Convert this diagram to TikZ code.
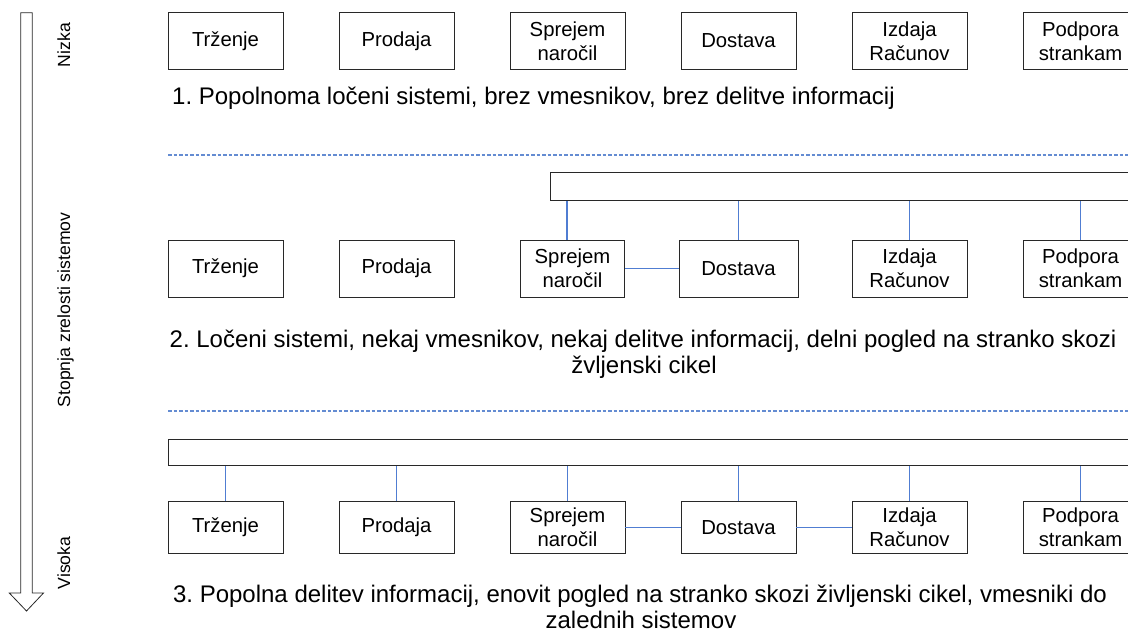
\documentclass[tikz,border=0pt]{standalone}
\usepackage{fontspec}
\setmainfont{Liberation Sans}
\frenchspacing
\definecolor{edge}{RGB}{40,40,40}
\definecolor{conn}{RGB}{80,125,210}
\definecolor{dash}{RGB}{100,140,210}
\tikzset{
  sysbox/.style={draw=edge, line width=0.9pt, fill=white, inner sep=0pt, align=center,
    font=\fontsize{20.3}{24}\selectfont},
  busbar/.style={draw=edge, line width=0.9pt, fill=white, inner sep=0pt},
  link/.style={draw=conn, line width=1.1pt},
  sep/.style={draw=dash, line width=1.2pt, dash pattern=on 3.5pt off 2pt},
  capt/.style={inner sep=0pt, font=\fontsize{24}{26}\selectfont},
  side/.style={inner sep=0pt, rotate=90, font=\fontsize{17.6}{20}\selectfont},
}
\begin{document}
\begin{tikzpicture}[x=1pt,y=-1pt]
\useasboundingbox (0,0) rectangle (1128,634);
\clip (0,0) rectangle (1128,634);
% big arrow
\draw[draw=edge, line width=0.8pt, fill=white] (20.7,12.7) -- (32.3,12.7) -- (32.3,593) -- (43.5,593) -- (26.5,611) -- (9.3,593) -- (20.7,593) -- cycle;
\node[side, anchor=base] (nizka) at (70,45) {Nizka};
\node[side, anchor=base] (stopnja) at (70,310) {Stopnja zrelosti sistemov};
\node[side, anchor=base] (visoka) at (70,563) {Visoka};
% row 1
\node[sysbox, minimum width=115, minimum height=56.5] (t1) at (225.5,40.8) {Trženje};
\node[sysbox, minimum width=115, minimum height=56.5] (p1) at (396.5,40.8) {Prodaja};
\node[sysbox, minimum width=115, minimum height=56.5] (s1) at (567.5,40.8) {Sprejem\\naročil};
\node[sysbox, minimum width=115, minimum height=56.5] (d1) at (738.5,40.8) {Dostava};
\node[sysbox, minimum width=115, minimum height=56.5] (i1) at (909.5,40.8) {Izdaja\\Računov};
\node[sysbox, minimum width=115, minimum height=56.5] (r1) at (1080.5,40.8) {Podpora\\strankam};
\node[capt, anchor=base west] (cap1) at (172,104) {1. Popolnoma ločeni sistemi, brez vmesnikov, brez delitve informacij};
\coordinate (l1a) at (168,155);
\coordinate (l1b) at (1128,155);
\draw[sep] (l1a) -- (l1b);
% row 2
\node[busbar, anchor=north west, minimum width=600, minimum height=28] (bar2) at (550,172) {};
\node[sysbox, minimum width=115, minimum height=57] (t2) at (225.5,268.5) {Trženje};
\node[sysbox, minimum width=115, minimum height=57] (p2) at (396.5,268.5) {Prodaja};
\node[sysbox, minimum width=104, minimum height=57] (s2) at (572.5,268.5) {Sprejem\\naročil};
\node[sysbox, minimum width=119, minimum height=57] (d2) at (738.5,268.5) {Dostava};
\node[sysbox, minimum width=115, minimum height=57] (i2) at (909.5,268.5) {Izdaja\\Računov};
\node[sysbox, minimum width=115, minimum height=57] (r2) at (1080.5,268.5) {Podpora\\strankam};
\draw[link] ([xshift=-5.5]s2.north) -- ([xshift=-5.5]s2.north |- bar2.south);
\draw[link] (d2.north) -- (d2.north |- bar2.south);
\draw[link] (i2.north) -- (i2.north |- bar2.south);
\draw[link] (r2.north) -- (r2.north |- bar2.south);
\draw[link] (s2.east) -- (d2.west);
\node[capt, anchor=base] (cap2a) at (643,347) {2. Ločeni sistemi, nekaj vmesnikov, nekaj delitve informacij, delni pogled na stranko skozi};
\node[capt, anchor=base] (cap2b) at (644,373) {žvljenski cikel};
\coordinate (l2a) at (168,411);
\coordinate (l2b) at (1128,411);
\draw[sep] (l2a) -- (l2b);
% row 3
\node[busbar, anchor=north west, minimum width=980, minimum height=26] (bar3) at (168,439.3) {};
\node[sysbox, minimum width=115, minimum height=51.5] (t3) at (225.5,527.5) {Trženje};
\node[sysbox, minimum width=115, minimum height=51.5] (p3) at (396.5,527.5) {Prodaja};
\node[sysbox, minimum width=115, minimum height=51.5] (s3) at (567.5,527.5) {Sprejem\\naročil};
\node[sysbox, minimum width=115, minimum height=51.5] (d3) at (738.5,527.5) {Dostava};
\node[sysbox, minimum width=115, minimum height=51.5] (i3) at (909.5,527.5) {Izdaja\\Računov};
\node[sysbox, minimum width=115, minimum height=51.5] (r3) at (1080.5,527.5) {Podpora\\strankam};
\foreach \n in {t3,p3,s3,d3,i3,r3} {
  \draw[link] (\n.north) -- (\n.north |- bar3.south);
}
\draw[link] (s3.east) -- (d3.west);
\draw[link] (d3.east) -- (i3.west);
\node[capt, anchor=base] (cap3a) at (640,602) {3. Popolna delitev informacij, enovit pogled na stranko skozi življenski cikel, vmesniki do};
\node[capt, anchor=base] (cap3b) at (641,628) {zalednih sistemov};
\end{tikzpicture}
\end{document}
